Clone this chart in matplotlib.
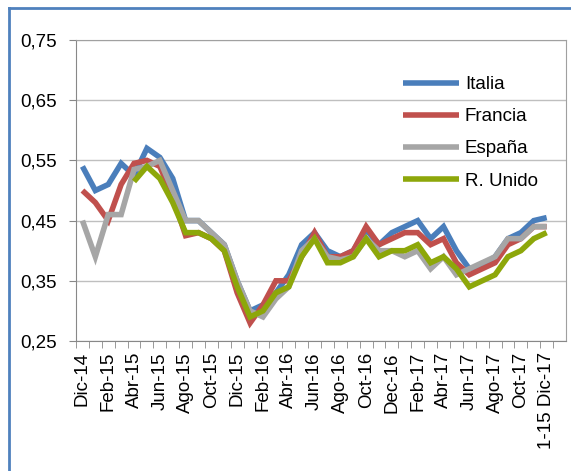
import matplotlib
matplotlib.use("Agg")
import matplotlib.pyplot as plt
from matplotlib.lines import Line2D
import numpy as np

plt.rcParams['font.family'] = ['Liberation Sans', 'DejaVu Sans']

months = ['Dic-14', 'Ene-15', 'Feb-15', 'Mar-15', 'Abr-15', 'May-15', 'Jun-15',
          'Jul-15', 'Ago-15', 'Sep-15', 'Oct-15', 'Nov-15', 'Dic-15', 'Ene-16',
          'Feb-16', 'Mar-16', 'Abr-16', 'May-16', 'Jun-16', 'Jul-16', 'Ago-16',
          'Sep-16', 'Oct-16', 'Nov-16', 'Dec-16', 'Ene-17', 'Feb-17', 'Mar-17',
          'Abr-17', 'May-17', 'Jun-17', 'Jul-17', 'Ago-17', 'Sep-17', 'Oct-17',
          'Nov-17', '1-15 Dic-17']

italia = [0.54, 0.50, 0.51, 0.545, 0.525, 0.57, 0.555, 0.52, 0.45, 0.45, 0.43,
          0.41, 0.35, 0.30, 0.31, 0.33, 0.36, 0.41, 0.43, 0.40, 0.39, 0.40,
          0.435, 0.41, 0.43, 0.44, 0.45, 0.42, 0.44, 0.40, 0.37, 0.375, 0.39,
          0.42, 0.43, 0.45, 0.455]
francia = [0.50, 0.48, 0.45, 0.51, 0.545, 0.55, 0.54, 0.49, 0.425, 0.43, 0.42,
           0.40, 0.33, 0.28, 0.31, 0.35, 0.35, 0.39, 0.43, 0.39, 0.39, 0.40,
           0.44, 0.41, 0.42, 0.43, 0.43, 0.41, 0.42, 0.38, 0.36, 0.37, 0.38,
           0.41, 0.42, 0.44, 0.44]
espana = [0.45, 0.39, 0.46, 0.46, 0.535, 0.54, 0.55, 0.50, 0.45, 0.45, 0.43,
          0.41, 0.35, 0.30, 0.29, 0.32, 0.34, 0.40, 0.42, 0.39, 0.385, 0.39,
          0.42, 0.40, 0.40, 0.39, 0.40, 0.37, 0.39, 0.36, 0.37, 0.38, 0.39,
          0.42, 0.42, 0.44, 0.44]
r_unido = [None, None, None, None, 0.515, 0.54, 0.52, 0.48, 0.43, 0.43, 0.42,
           0.40, 0.34, 0.29, 0.30, 0.33, 0.34, 0.39, 0.42, 0.38, 0.38, 0.39,
           0.42, 0.39, 0.40, 0.40, 0.41, 0.38, 0.39, 0.37, 0.34, 0.35, 0.36,
           0.39, 0.40, 0.42, 0.43]

series = [('Italia', italia, '#4A7EBB'),
          ('Francia', francia, '#C0504D'),
          ('España', espana, '#A6A6A6'),
          ('R. Unido', r_unido, '#8DA70A')]

fig = plt.figure(figsize=(5.71, 4.71), dpi=100)
ax = fig.add_axes([76/571, 1 - 341/471, 490/571, 301/471])

x = np.arange(len(months))
for name, vals, col in series:
    y = np.array([np.nan if v is None else v for v in vals], dtype=float)
    ax.plot(x, y, color=col, lw=4, label=name, solid_capstyle='butt',
            solid_joinstyle='miter')

ax.set_ylim(0.25, 0.75)
ax.set_xlim(-0.5, len(months) + 0.5)
yt = [0.25, 0.35, 0.45, 0.55, 0.65, 0.75]
ax.set_yticks(yt)
ax.set_yticklabels([('%.2f' % v).replace('.', ',') for v in yt], fontsize=13.5)
ax.grid(axis='y', color='#BFBFBF', lw=1)
ax.set_axisbelow(True)

ax.set_xticks(x[::2])
ax.set_xticklabels(months[::2], rotation=90, fontsize=13.5)
ax.set_xticks(np.arange(len(months) + 1) - 0.5, minor=True)
ax.tick_params(axis='x', which='major', length=0, pad=8)
ax.tick_params(axis='x', which='minor', length=5, color='#888888')
ax.tick_params(axis='y', length=5, color='#888888', pad=9)

for s in ax.spines.values():
    s.set_color('#A0A0A0')
ax.spines['left'].set_color('#888888')
ax.spines['bottom'].set_color('#888888')

leg = ax.legend(loc='upper left', bbox_to_anchor=(0.652, 0.905), frameon=False,
                fontsize=13.5, handlelength=3.0, handletextpad=0.3,
                labelspacing=0.8, borderaxespad=0)

# blue frame around the chart
fig.add_artist(Line2D([9/571, 9/571], [0, 1 - 8/471], transform=fig.transFigure,
                      color='#4F81BD', lw=2))
fig.add_artist(Line2D([9/571, 1], [1 - 8/471, 1 - 8/471], transform=fig.transFigure,
                      color='#4F81BD', lw=2))

fig.savefig('out.png', dpi=100)
